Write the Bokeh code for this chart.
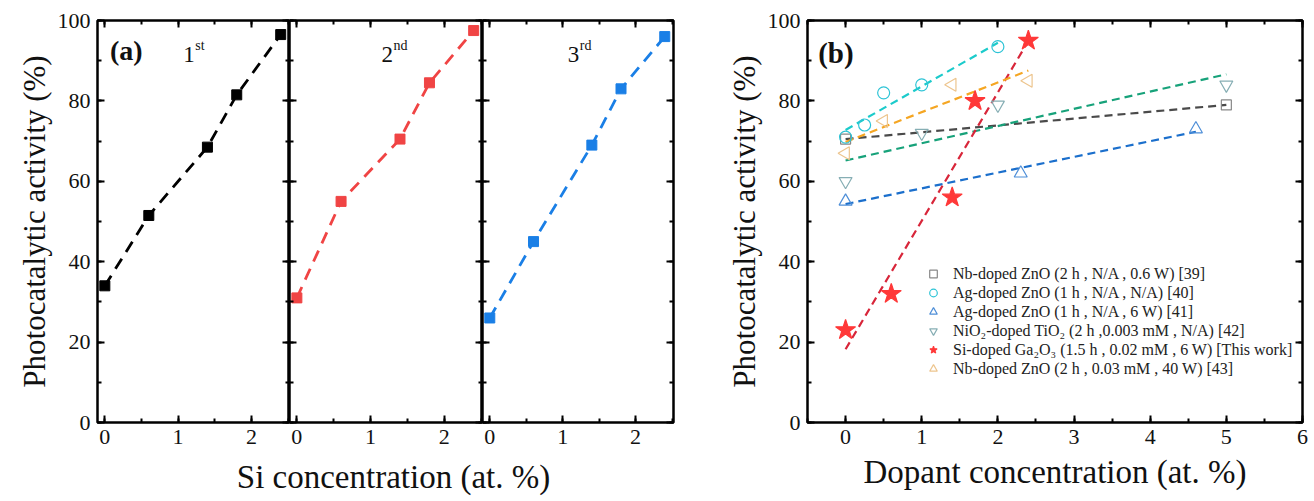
import numpy as np
from bokeh.plotting import figure
from bokeh.layouts import row, column
from bokeh.models import (LinearAxis, SingleIntervalTicker, Range1d, Label,
                          Legend, LegendItem, CustomLabelingPolicy, ColumnDataSource)
from bokeh.embed import file_html
from bokeh.resources import INLINE

# ---------------- data: panel (a) ----------------
si_conc = [0, 0.6, 1.4, 1.8, 2.4]
act_1st = [34, 51.5, 68.5, 81.5, 96.5]
act_2nd = [31, 55, 70.5, 84.5, 97.5]
act_3rd = [26, 45, 69, 83, 96]
run_nums = ["1", "2", "3"]
run_sups = ["st", "nd", "rd"]
run_colors = ["#000000", "#F04444", "#1A7FE6"]

# ---------------- data: panel (b) ----------------
nb39_x = [0, 5]
nb39_y = [70.5, 79]
ag40_x = [0, 0.25, 0.5, 1, 2]
ag40_y = [71, 74, 82, 84, 93.5]
ag41_x = [0, 2.3, 4.6]
ag41_y = [55, 62, 73]
nio2_x = [0, 1, 2, 5]
nio2_y = [60, 72, 79, 84]
si_x = [0, 0.6, 1.4, 1.7, 2.4]
si_y = [23, 32, 56, 80, 95]
nb43_x = [0, 0.5, 1.4, 2.4]
nb43_y = [67, 75, 84, 85]
legend_labels = [
    "Nb-doped ZnO (2 h , N/A , 0.6 W) [39]",
    "Ag-doped ZnO (1 h , N/A , N/A) [40]",
    "Ag-doped ZnO (1 h , N/A , 6 W) [41]",
    "NiO\u2082-doped TiO\u2082 (2 h ,0.003 mM , N/A) [42]",
    "Si-doped Ga\u2082O\u2083 (1.5 h , 0.02 mM , 6 W) [This work]",
    "Nb-doped ZnO (2 h , 0.03 mM , 40 W) [43]",
]

SERIF = "Liberation Serif"

HIDE_ALL = CustomLabelingPolicy(code="""
for (const i of indices)
    indices.unset(i)
return indices
""")


def bare_axis(interval, minor):
    ax = LinearAxis(ticker=SingleIntervalTicker(interval=interval, num_minor_ticks=minor))
    ax.major_label_policy = HIDE_ALL
    ax.major_label_text_font_size = "0px"
    ax.major_label_standoff = 0
    ax.axis_line_color = None
    ax.major_tick_in = 7
    ax.major_tick_out = 0
    ax.minor_tick_in = 4
    ax.minor_tick_out = 0
    ax.major_tick_line_width = 2
    ax.minor_tick_line_width = 2
    ax.major_tick_line_color = "black"
    ax.minor_tick_line_color = "black"
    return ax


def label_axis(interval, minor, label=None, label_standoff=3, label_size="31px"):
    ax = LinearAxis(ticker=SingleIntervalTicker(interval=interval, num_minor_ticks=minor))
    ax.axis_line_color = None
    ax.major_tick_in = 7
    ax.major_tick_out = 0
    ax.minor_tick_in = 4
    ax.minor_tick_out = 0
    ax.major_tick_line_width = 2
    ax.minor_tick_line_width = 2
    ax.major_tick_line_color = "black"
    ax.minor_tick_line_color = "black"
    ax.major_label_text_font_size = "22px"
    ax.major_label_text_font = SERIF
    ax.major_label_text_color = "#111111"
    ax.major_label_standoff = 7
    if label:
        ax.axis_label = label
        ax.axis_label_text_font = SERIF
        ax.axis_label_text_font_size = label_size
        ax.axis_label_text_font_style = "normal"
        ax.axis_label_text_color = "#111111"
        ax.axis_label_standoff = label_standoff
    return ax


def make_fig(xr, fw, fh, bl, br, bt, bb):
    p = figure(x_range=xr, y_range=Range1d(0, 100), frame_width=fw, frame_height=fh,
               min_border_left=bl, min_border_right=br, min_border_top=bt,
               min_border_bottom=bb, output_backend="svg", toolbar_location=None,
               x_axis_location=None, y_axis_location=None)
    p.grid.visible = False
    p.outline_line_color = "black"
    p.outline_line_width = 2.5
    p.outline_line_alpha = 1.0
    p.background_fill_color = "white"
    p.border_fill_color = "white"
    return p


# ---------------- panel (a) ----------------
series_a = [act_1st, act_2nd, act_3rd]
frame_ws = [192, 193, 191]
borders_l = [97, 0, 0]
borders_r = [0, 0, 3]
figs_a = []
for i in range(3):
    p = make_fig(Range1d(-0.1, 2.52), frame_ws[i], 402, borders_l[i], borders_r[i], 20, 35)
    if i == 0:
        p.add_layout(label_axis(20, 2, "Photocatalytic activity (%)"), "left")
    else:
        p.add_layout(bare_axis(20, 2), "left")
    p.add_layout(bare_axis(20, 2), "right")
    p.add_layout(bare_axis(1, 2), "above")
    p.add_layout(label_axis(1, 2), "below")
    col = run_colors[i]
    p.line(si_conc, series_a[i], line_color=col, line_width=2.8, line_dash="12 8")
    p.scatter(si_conc, series_a[i], marker="square", size=10, fill_color=col, line_color=col)
    tx = 1.07 if i != 1 else 1.15
    p.add_layout(Label(x=tx, y=91.5, text=run_nums[i],
                       text_font=SERIF, text_font_size="23px", text_color="#111111",
                       text_baseline="alphabetic", text_align="left"))
    p.add_layout(Label(x=tx, y=91.5, x_offset=12, y_offset=9,
                       text=run_sups[i], text_font=SERIF, text_font_size="14px",
                       text_color="#111111", text_baseline="alphabetic", text_align="left"))
    if i == 0:
        p.add_layout(Label(x=0.07, y=92.5, text="(a)", text_font=SERIF, text_font_size="28px",
                           text_font_style="bold", text_color="#111111",
                           text_baseline="middle", text_align="left"))
    figs_a.append(p)

lab = figure(x_range=Range1d(0, 673), y_range=Range1d(0, 1), width=673, height=44,
             min_border=0, output_backend="svg", toolbar_location=None,
             x_axis_location=None, y_axis_location=None)
lab.grid.visible = False
lab.outline_line_color = None
lab.add_layout(Label(x=393, y=0.55, text="Si concentration (at. %)", text_font=SERIF,
                     text_font_size="33px", text_color="#111111",
                     text_baseline="middle", text_align="center"))

# ---------------- panel (b) ----------------
pb = make_fig(Range1d(-0.5, 6.0), 495, 402, 131, 12, 20, 79)
pb.add_layout(label_axis(20, 2, "Photocatalytic activity (%)"), "left")
pb.add_layout(bare_axis(20, 2), "right")
pb.add_layout(bare_axis(1, 2), "above")
pb.add_layout(label_axis(1, 2, "Dopant concentration (at. %)", label_standoff=7,
                         label_size="33px"), "below")

series_b = [
    (nb39_x, nb39_y, "square", 0.0, 10, "#888888", None, "#4A4A4A"),
    (ag40_x, ag40_y, "circle", 0.0, 12, "#2EC4D6", None, "#1CCBCB"),
    (ag41_x, ag41_y, "triangle", 0.0, 13, "#4F8FD8", None, "#1B6FCC"),
    (nio2_x, nio2_y, "inverted_triangle", 0.0, 13, "#86AEB4", None, "#17A27A"),
    (si_x, si_y, "star", 0.0, 21, "#FF3838", "#FF3838", "#D8263A"),
    (nb43_x, nb43_y, "triangle", np.pi / 2, 13, "#EDC58E", None, "#F5A623"),
]
for xs, ys, *_rest in series_b:
    lc = _rest[-1]
    fx = np.array([min(xs), max(xs)], dtype=float)
    coef = np.polyfit(xs, ys, 1)
    pb.line(fx, np.polyval(coef, fx), line_color=lc, line_width=2.2, line_dash="8 5")

items = []
for (xs, ys, mk, ang, sz, mc, fc, lc), lbl in zip(series_b, legend_labels):
    src = ColumnDataSource(dict(x=xs, y=ys, a=[ang] * len(xs)))
    r = pb.scatter("x", "y", source=src, marker=mk, angle="a", size=sz, line_color=mc,
                   fill_color=fc, line_width=1.2)
    items.append(LegendItem(label=lbl, renderers=[r]))

leg = Legend(items=items, location=(116, 44), padding=0, margin=0, spacing=0,
             label_height=19, glyph_height=19, glyph_width=20, label_standoff=10,
             label_text_font=SERIF, label_text_font_size="16px",
             label_text_color="#222222", border_line_color=None,
             background_fill_alpha=0)
pb.add_layout(leg)
pb.add_layout(Label(x=-0.36, y=92, text="(b)", text_font=SERIF, text_font_size="29px",
                    text_font_style="bold", text_color="#111111",
                    text_baseline="middle", text_align="left"))

layout = row(column(row(*figs_a), lab), pb)
open("out.html", "w").write(file_html(layout, INLINE))
